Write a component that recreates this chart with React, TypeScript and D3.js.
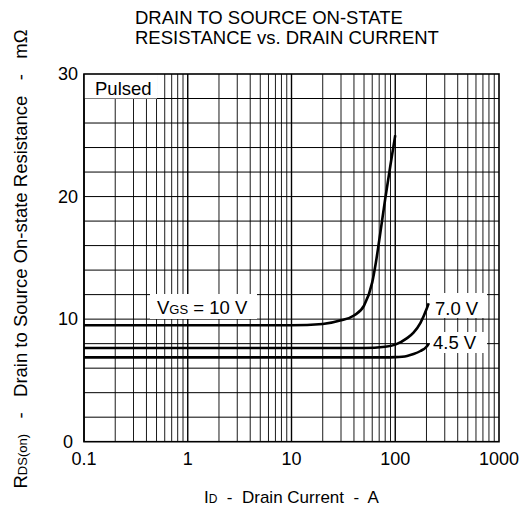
import { useEffect, useRef } from "react";
import * as d3 from "d3";

// drain current (A) / on-resistance (mOhm)
const vgs10Current = [0.1, 10, 20, 30, 40, 50, 60, 65, 70, 80, 90, 100];
const vgs10Res = [9.5, 9.5, 9.6, 9.9, 10.3, 11.1, 13.0, 14.6, 16.4, 19.8, 22.6, 25];
const vgs7Current = [0.1, 50, 80, 100, 130, 150, 175, 200, 210];
const vgs7Res = [7.65, 7.65, 7.75, 7.92, 8.45, 8.9, 9.7, 10.8, 11.3];
const vgs45Current = [0.1, 80, 100, 130, 150, 175, 200, 210];
const vgs45Res = [6.88, 6.88, 6.9, 7.0, 7.15, 7.4, 7.75, 8.0];

const xTicks = [0.1, 1, 10, 100, 1000];
const xTickLabels = ["0.1", "1", "10", "100", "1000"];
const yTicks = [0, 10, 20, 30];

const FONT = "'Liberation Sans', Arial, sans-serif";

export default function App() {
  const svgRef = useRef(null);

  useEffect(() => {
    const svg = d3.select(svgRef.current);
    svg.selectAll("*").remove();

    const width = 529;
    const height = 508;
    const left = 84;
    const right = 499;
    const top = 74;
    const bottom = 441.7;

    const x = d3.scaleLog().domain([0.1, 1000]).range([left, right]);
    const y = d3.scaleLinear().domain([0, 30]).range([bottom, top]);

    svg
      .attr("width", width)
      .attr("height", height)
      .style("position", "absolute")
      .style("left", 0)
      .style("top", 0)
      .style("font-family", FONT);

    svg.append("rect").attr("width", width).attr("height", height).attr("fill", "white");

    const grid = svg.append("g");

    // vertical log grid
    const vLines: number[] = [];
    for (let dec = 0.1; dec < 1000; dec *= 10) {
      for (let k = 1; k <= 9; k++) vLines.push(+(dec * k).toPrecision(3));
    }
    grid
      .selectAll("line.v")
      .data(vLines)
      .enter()
      .append("line")
      .attr("x1", (d) => x(d))
      .attr("x2", (d) => x(d))
      .attr("y1", top)
      .attr("y2", bottom)
      .attr("stroke", "#000")
      .attr("stroke-width", (d) => (xTicks.includes(d) ? 1.4 : 0.9));

    grid
      .selectAll("line.h")
      .data(d3.range(2, 30, 2))
      .enter()
      .append("line")
      .attr("x1", left)
      .attr("x2", right)
      .attr("y1", (d) => y(d))
      .attr("y2", (d) => y(d))
      .attr("stroke", "#000")
      .attr("stroke-width", 1);

    // white label boxes covering the grid
    const boxes = [
      { x0: 84, x1: 157, y0: 74, y1: 98.5 },
      { x0: 150, x1: 257, y0: 294, y1: 319 },
      { x0: 430, x1: 487, y0: 293, y1: 318 },
      { x0: 430, x1: 487, y0: 332, y1: 353 },
    ];
    svg
      .selectAll("rect.box")
      .data(boxes)
      .enter()
      .append("rect")
      .attr("x", (d) => d.x0)
      .attr("y", (d) => d.y0)
      .attr("width", (d) => d.x1 - d.x0)
      .attr("height", (d) => d.y1 - d.y0)
      .attr("fill", "white");

    svg
      .append("rect")
      .attr("x", left)
      .attr("y", top)
      .attr("width", right - left)
      .attr("height", bottom - top)
      .attr("fill", "none")
      .attr("stroke", "#000")
      .attr("stroke-width", 1.6);

    const series = [
      { i: vgs10Current, r: vgs10Res },
      { i: vgs7Current, r: vgs7Res },
      { i: vgs45Current, r: vgs45Res },
    ];
    const line = d3
      .line<[number, number]>()
      .x((d) => x(d[0]))
      .y((d) => y(d[1]))
      .curve(d3.curveMonotoneX);

    svg
      .selectAll("path.curve")
      .data(series)
      .enter()
      .append("path")
      .attr("d", (s) => line(s.i.map((v, k) => [v, s.r[k]] as [number, number])))
      .attr("fill", "none")
      .attr("stroke", "#000")
      .attr("stroke-width", 2.6);

    // tick labels
    svg
      .selectAll("text.xt")
      .data(xTicks)
      .enter()
      .append("text")
      .attr("x", (d) => x(d))
      .attr("y", 465)
      .attr("text-anchor", "middle")
      .attr("font-size", 18)
      .text((_, k) => xTickLabels[k]);

    svg
      .selectAll("text.yt")
      .data(yTicks)
      .enter()
      .append("text")
      .attr("x", 68)
      .attr("y", (d) => y(d))
      .attr("dy", "0.35em")
      .attr("text-anchor", "middle")
      .attr("font-size", 18)
      .text((d) => d);

    // in-plot labels
    svg.append("text").attr("x", 95).attr("y", 95).attr("font-size", 18.5).text("Pulsed");

    const vgs = svg.append("text").attr("x", 157).attr("y", 314).attr("font-size", 18.5);
    vgs.append("tspan").text("V");
    vgs.append("tspan").attr("font-size", 13).text("GS");
    vgs.append("tspan").text(" = 10 V");

    svg.append("text").attr("x", 435).attr("y", 315).attr("font-size", 18.5).text("7.0 V");
    svg.append("text").attr("x", 433).attr("y", 349).attr("font-size", 18.5).text("4.5 V");

    // title
    svg.append("text").attr("x", 135).attr("y", 23.5).attr("font-size", 18.5).text("DRAIN TO SOURCE ON-STATE");
    svg.append("text").attr("x", 135).attr("y", 44).attr("font-size", 18.5).text("RESISTANCE vs. DRAIN CURRENT");

    // x axis title
    const xt = svg
      .append("text")
      .attr("x", (left + right) / 2)
      .attr("y", 503)
      .attr("text-anchor", "middle")
      .attr("font-size", 17)
      .style("white-space", "pre");
    xt.append("tspan").text("I");
    xt.append("tspan").attr("font-size", 12).text("D");
    xt.append("tspan").text("  -  Drain Current  -  A");

    // y axis title
    const yt = svg
      .append("text")
      .attr("transform", `translate(27, 259) rotate(-90)`)
      .attr("text-anchor", "middle")
      .attr("font-size", 18.5)
      .style("white-space", "pre");
    yt.append("tspan").text("R");
    yt.append("tspan").attr("font-size", 13).text("DS(on)");
    yt.append("tspan").text("   -   Drain to Source On-state Resistance   -   m\u03a9");
  }, []);

  return <svg ref={svgRef}></svg>;
}
